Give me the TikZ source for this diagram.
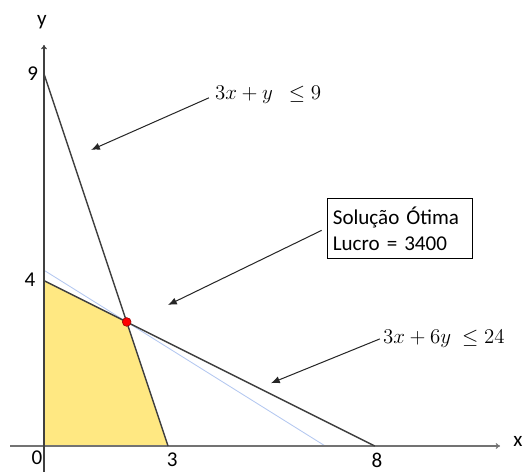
\documentclass[tikz,border=0pt]{standalone}
\usepackage{fontspec}
\setmainfont{Carlito}
\usetikzlibrary{arrows.meta,positioning}
\definecolor{regiao}{RGB}{255,232,130}
\definecolor{reta}{RGB}{64,64,64}
\definecolor{objetivo}{RGB}{180,200,240}

\begin{document}
\begin{tikzpicture}[>=Stealth,font=\fontsize{14.5}{18}\selectfont,
  eixo/.style={draw=reta,line width=0.8pt,-{To[length=3pt,width=4pt]}},
  rest/.style={draw=reta,line width=1pt},
  seta/.style={draw=black!85,line width=0.7pt,-{Latex[length=6pt,width=5pt]}},
  lbl/.style={inner sep=1pt},
  form/.style={inner sep=1pt,font=\fontsize{15.5}{18}\selectfont}]
\useasboundingbox (-1.064,-0.605) rectangle (11.608,10.786);
\fill[regiao] (0,0) -- (0,4) -- (2,3) -- (3,0) -- cycle;
\draw[objetivo,line width=0.6pt] (0,4.25) -- (6.8,0);
\draw[eixo,draw=black!55] (-0.82,0) -- (11.03,0);
\draw[eixo] (0,-0.7) -- (0,9.7);
\draw[rest] (0,9) -- (3,0);
\draw[rest] (0,4) -- (8,0);
\node[circle,fill=red,draw=red!60!black,inner sep=0pt,minimum size=6pt] (otimo) at (2,3) {};
% rotulos dos eixos
\node[lbl] (ly) at (-0.05,10.25) {y};
\node[lbl] (lx) at (11.46,0.12) {x};
\node[lbl] (n9) at (-0.27,9.0) {9};
\node[lbl] (n4) at (-0.34,4.01) {4};
\node[lbl] (n0) at (-0.17,-0.29) {0};
\node[lbl] (n3) at (3.1,-0.34) {3};
\node[lbl] (n8) at (8.05,-0.34) {8};
% restricoes e solucao
\node[form] (r1) at (5.42,8.49) {$3x+y\ \ \le 9$};
\node[form] (r2) at (9.67,2.59) {$3x+6y\ \le 24$};
\node[draw,line width=0.7pt,align=left,minimum width=3.48cm,minimum height=1.45cm,text width=3.25cm] (sol) at (8.61,5.25) {Solução Ótima\\ Lucro = 3400};
\coordinate (t1) at (1.14,7.16);
\coordinate (t2) at (3.0,3.41);
\coordinate (t3) at (5.49,1.52);
\draw[seta] ([xshift=-3pt,yshift=-2pt]r1.west) -- (t1);
\draw[seta] ([xshift=-4pt,yshift=-1pt]sol.west) -- (t2);
\draw[seta] ([xshift=-1pt]r2.west) -- (t3);
\end{tikzpicture}
\end{document}
